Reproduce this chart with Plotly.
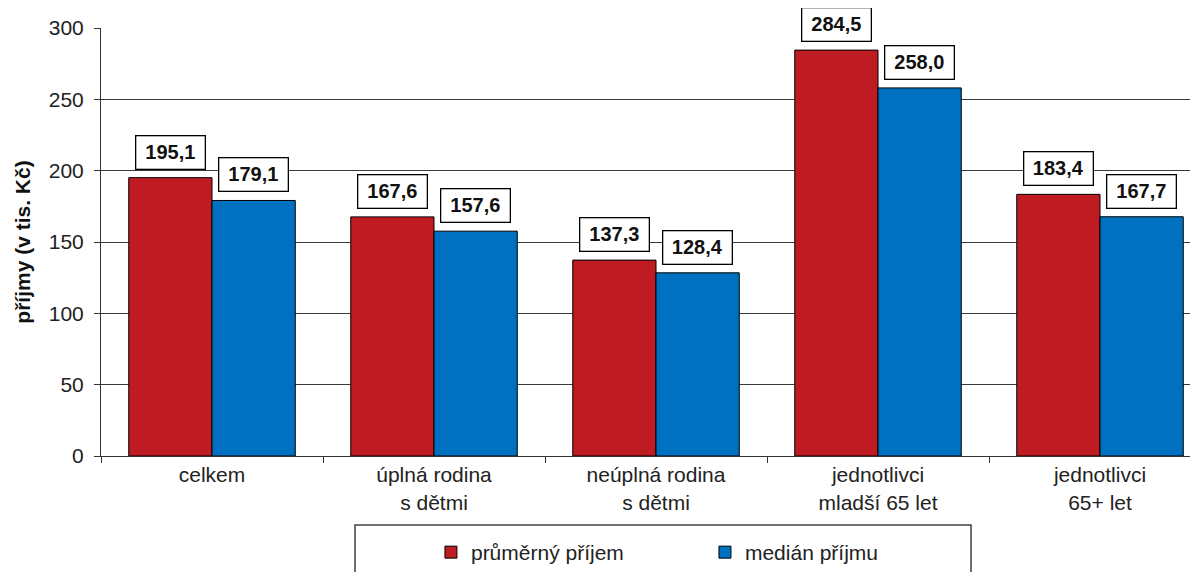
import plotly.graph_objects as go

categories = ["celkem", "úplná rodina<br>s dětmi", "neúplná rodina<br>s dětmi",
              "jednotlivci<br>mladší 65 let", "jednotlivci<br>65+ let"]
mean_vals = [195.1, 167.6, 137.3, 284.5, 183.4]
median_vals = [179.1, 157.6, 128.4, 258.0, 167.7]
series_names = ["průměrný příjem", "medián příjmu"]
y_title = "příjmy (v tis. Kč)"

RED = "#BE1B22"
BLUE = "#0070C0"
FONT = "Liberation Sans, Arial, sans-serif"

fig = go.Figure()
fig.add_trace(go.Bar(x=categories, y=mean_vals, name=series_names[0],
                     marker=dict(color=RED, line=dict(color="#000000", width=1))))
fig.add_trace(go.Bar(x=categories, y=median_vals, name=series_names[1],
                     marker=dict(color=BLUE, line=dict(color="#000000", width=1))))

bargap = 0.25
half = (1 - bargap) / 4  # offset of each bar's centre from category centre

def fmt(v):
    return f"{v:.1f}".replace(".", ",")

for i, (m, md) in enumerate(zip(mean_vals, median_vals)):
    for off, v in ((-half, m), (half, md)):
        fig.add_annotation(x=i + off, y=v, xref="x", yref="y", text=f"<b>{fmt(v)}</b>",
                           showarrow=False, yanchor="bottom", yshift=8,
                           bgcolor="#FFFFFF", bordercolor="#000000", borderwidth=1.3,
                           borderpad=4, width=60, height=24,
                           font=dict(family=FONT, size=20, color="#111111"))

# page has an 8px body margin; reference coordinates are converted by OFF
OFF = 8
FW, FH = 1198, 572
L, T, B = 101 - OFF, 28 - OFF, 456 - OFF
R = FW
W, H = R - L, B - T
cat_px = 222
span = W / cat_px

fig.add_shape(type="rect", xref="paper", yref="paper",
              x0=(355 - OFF - L) / W, x1=(971 - OFF - L) / W,
              y0=(B - 600) / H, y1=(B - (525 - OFF)) / H,
              line=dict(color="#404040", width=1.5), fillcolor="rgba(0,0,0,0)")

fig.update_layout(
    width=FW, height=FH,
    margin=dict(l=L, r=0, t=T, b=FH - B, autoexpand=False),
    paper_bgcolor="#FFFFFF", plot_bgcolor="#FFFFFF",
    barmode="group", bargap=bargap, bargroupgap=0,
    font=dict(family=FONT, size=21, color="#222222"),
    showlegend=True,
    legend=dict(orientation="h", x=(442 - OFF - L) / W - 0.01, xanchor="left",
                y=(B - (532 - OFF)) / H, yanchor="top", entrywidth=229,
                font=dict(family=FONT, size=21, color="#222222"),
                bgcolor="rgba(0,0,0,0)", borderwidth=0),
    xaxis=dict(range=[-0.5, -0.5 + span], showline=True, linecolor="#333333", linewidth=1,
               ticks="outside", tickson="boundaries", ticklen=6, tickcolor="#333333",
               showgrid=False, tickfont=dict(size=21, color="#222222")),
    yaxis=dict(range=[0, 300], dtick=50, showline=True, linecolor="#333333", linewidth=1,
               ticks="outside", ticklen=6, tickcolor="#333333", ticklabelstandoff=6,
               showgrid=True, gridcolor="#3A3A3A", gridwidth=1, zeroline=False,
               tickfont=dict(size=21, color="#222222"),
               title=dict(text=f"<b>{y_title}</b>", standoff=12,
                          font=dict(size=21, color="#111111"))),
)

fig.write_html("out.html")
